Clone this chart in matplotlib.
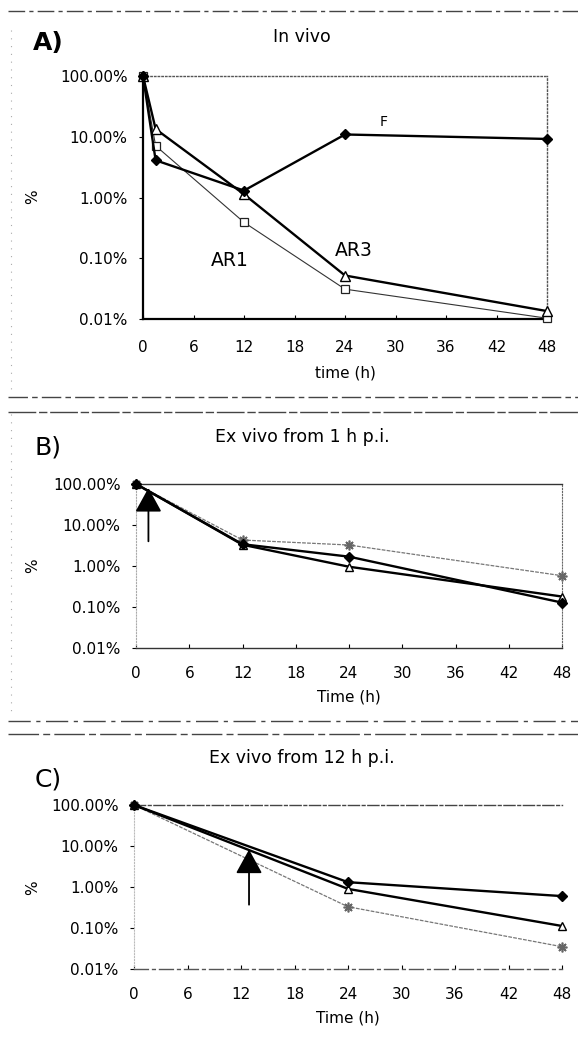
import matplotlib
matplotlib.use("Agg")
import matplotlib.pyplot as plt
from matplotlib.lines import Line2D
from matplotlib.ticker import FixedLocator, FuncFormatter, NullLocator

plt.rcParams['font.family'] = ['DejaVu Sans']

W, H = 578, 1041

# panel A: in vivo
a_time = [0, 1.5, 12, 24, 48]
a_F = [100, 4.1, 1.3, 10.9, 9.2]
a_AR3 = [100, 13.4, 1.13, 0.052, 0.0135]
a_AR1 = [100, 7.1, 0.39, 0.031, 0.0103]

# panel B: ex vivo from 1 h p.i.
b_time = [0, 12, 24, 48]
b_diamond = [100, 3.4, 1.69, 0.128]
b_triangle = [100, 3.3, 0.96, 0.18]
b_gray = [100, 4.3, 3.25, 0.58]
b_arrow = (1.4, 4.0, 80)  # x, tail, tip

# panel C: ex vivo from 12 h p.i.
c_time = [0, 24, 48]
c_diamond = [100, 1.31, 0.60]
c_triangle = [100, 0.90, 0.112]
c_gray = [100, 0.33, 0.035]
c_arrow = (12.9, 0.37, 8.2)

xticks = [0, 6, 12, 18, 24, 30, 36, 42, 48]
yticks = [0.01, 0.1, 1, 10, 100]


def fx(x):
    return x / W


def fy(y):
    return 1 - y / H


def box(l, t, r, b):
    return [fx(l), fy(b), fx(r) - fx(l), fy(t) - fy(b)]


fig = plt.figure(figsize=(W / 100, H / 100), dpi=100)

axA = fig.add_axes(box(143, 76, 547, 319))
axB = fig.add_axes(box(136, 484, 562, 648))
axC = fig.add_axes(box(134, 805, 562, 969))


def setup(ax, xpad):
    ax.set_yscale('log')
    ax.set_xlim(0, 48)
    ax.set_ylim(0.01, 100)
    ax.xaxis.set_major_locator(FixedLocator(xticks))
    ax.yaxis.set_major_locator(FixedLocator(yticks))
    ax.yaxis.set_minor_locator(NullLocator())
    ax.yaxis.set_major_formatter(FuncFormatter(lambda v, p: f'{v:.2f}%'))
    ax.tick_params(axis='x', direction='in', length=3, width=0.8, pad=xpad,
                   labelsize=11)
    ax.tick_params(axis='y', direction='out', length=3, width=0.8, pad=8,
                   labelsize=11)


setup(axA, 15)
setup(axB, 13)
setup(axC, 13)

# ---- A
axA.spines['left'].set_linewidth(1.6)
axA.spines['bottom'].set_linewidth(1.6)
for s in ('top', 'right'):
    axA.spines[s].set_linestyle(':')
    axA.spines[s].set_color('#555555')
    axA.spines[s].set_linewidth(1.0)

axA.plot(a_time, a_AR1, color='#333333', lw=0.8, marker='s', ms=6,
         mfc='white', mec='#222222', mew=0.9, clip_on=False, zorder=3)
axA.plot(a_time, a_AR3, color='black', lw=1.7, marker='^', ms=7,
         mfc='white', mec='black', mew=1.0, clip_on=False, zorder=4)
axA.plot(a_time, a_F, color='black', lw=1.7, marker='D', ms=5,
         mfc='black', mec='black', clip_on=False, zorder=5)

fig.text(fx(384), fy(122), 'F', fontsize=10, ha='center', va='center')
fig.text(fx(230), fy(260), 'AR1', fontsize=13.5, ha='center', va='center')
fig.text(fx(354), fy(250), 'AR3', fontsize=13.5, ha='center', va='center')

# ---- B
axB.spines['top'].set_color('#333333')
axB.spines['top'].set_linewidth(1.0)
axB.spines['right'].set_linestyle(':')
axB.spines['right'].set_color('#666666')
axB.spines['left'].set_linestyle(':')
axB.spines['left'].set_color('#aaaaaa')
axB.spines['bottom'].set_color('#333333')
axB.spines['bottom'].set_linewidth(1.0)

axB.plot(b_time, b_gray, color='#777777', lw=0.9, ls=(0, (3, 1)),
         marker=(8, 2, 0), ms=7, mec='#666666', mew=1.2, clip_on=False,
         zorder=3)
axB.plot(b_time, b_triangle, color='black', lw=1.7, marker='^', ms=6,
         mfc='white', mec='black', clip_on=False, zorder=4)
axB.plot(b_time, b_diamond, color='black', lw=1.7, marker='D', ms=5,
         mfc='black', mec='black', clip_on=False, zorder=5)
axB.annotate('', xy=(b_arrow[0], b_arrow[2]), xytext=(b_arrow[0], b_arrow[1]),
             arrowprops=dict(arrowstyle='-|>,head_length=1.0,head_width=0.55',
                             color='black', lw=1.3, mutation_scale=15,
                             shrinkA=0, shrinkB=0), zorder=6)

# ---- C
axC.spines['top'].set_linestyle((0, (8, 2, 2, 2)))
axC.spines['top'].set_color('#444444')
axC.spines['top'].set_linewidth(1.0)
axC.spines['bottom'].set_linestyle((0, (10, 3, 2, 3)))
axC.spines['bottom'].set_color('#555555')
axC.spines['bottom'].set_linewidth(1.0)
axC.spines['right'].set_visible(False)
axC.spines['left'].set_linestyle(':')
axC.spines['left'].set_color('#bbbbbb')

axC.plot(c_time, c_gray, color='#777777', lw=0.9, ls=(0, (3, 1)),
         marker=(8, 2, 0), ms=7, mec='#666666', mew=1.2, clip_on=False,
         zorder=3)
axC.plot(c_time, c_triangle, color='black', lw=1.7, marker='^', ms=6,
         mfc='white', mec='black', clip_on=False, zorder=4)
axC.plot(c_time, c_diamond, color='black', lw=1.7, marker='D', ms=5,
         mfc='black', mec='black', clip_on=False, zorder=5)
axC.annotate('', xy=(c_arrow[0], c_arrow[2]), xytext=(c_arrow[0], c_arrow[1]),
             arrowprops=dict(arrowstyle='-|>,head_length=1.0,head_width=0.55',
                             color='black', lw=1.3, mutation_scale=15,
                             shrinkA=0, shrinkB=0), zorder=6)

# ---- titles, letters and axis labels
fig.text(fx(302), fy(37), 'In vivo', fontsize=12.5, ha='center', va='center')
fig.text(fx(302), fy(437), 'Ex vivo from 1 h p.i.', fontsize=12.5,
         ha='center', va='center')
fig.text(fx(302), fy(758), 'Ex vivo from 12 h p.i.', fontsize=12.5,
         ha='center', va='center')
fig.text(fx(48), fy(43), 'A)', fontsize=18, fontweight='semibold',
         ha='center', va='center')
for letter, y in (('B)', 448), ('C)', 780)):
    fig.text(fx(48), fy(y), letter, fontsize=18, ha='center', va='center')

fig.text(fx(345), fy(373), 'time (h)', fontsize=11, ha='center', va='center')
fig.text(fx(349), fy(697), 'Time (h)', fontsize=11, ha='center', va='center')
fig.text(fx(348), fy(1018), 'Time (h)', fontsize=11, ha='center', va='center')
for y in (197, 566, 888):
    fig.text(fx(33), fy(y), '%', fontsize=11, ha='center', va='center',
             rotation=90)

# ---- scanned frame lines around the panels
frame = [
    (11, 8, 578, (0, (12, 3, 3, 3))),
    (397, 8, 578, (0, (14, 3, 4, 3))),
    (412, 8, 578, (0, (20, 2, 6, 2))),
    (721, 8, 578, (0, (16, 4, 3, 4))),
    (734, 8, 578, (0, (22, 3, 5, 3))),
]
for y, x0, x1, ls in frame:
    fig.add_artist(Line2D([fx(x0), fx(x1)], [fy(y), fy(y)], color='#444444',
                          lw=1.0, ls=ls, transform=fig.transFigure))
fig.add_artist(Line2D([fx(11), fx(11)], [fy(30), fy(395)], color='#aaaaaa',
                      lw=0.8, ls=(0, (1, 6)), transform=fig.transFigure))
fig.add_artist(Line2D([fx(11), fx(11)], [fy(414), fy(715)], color='#aaaaaa',
                      lw=0.8, ls=(0, (1, 6)), transform=fig.transFigure))

fig.savefig('out.png', dpi=100)
